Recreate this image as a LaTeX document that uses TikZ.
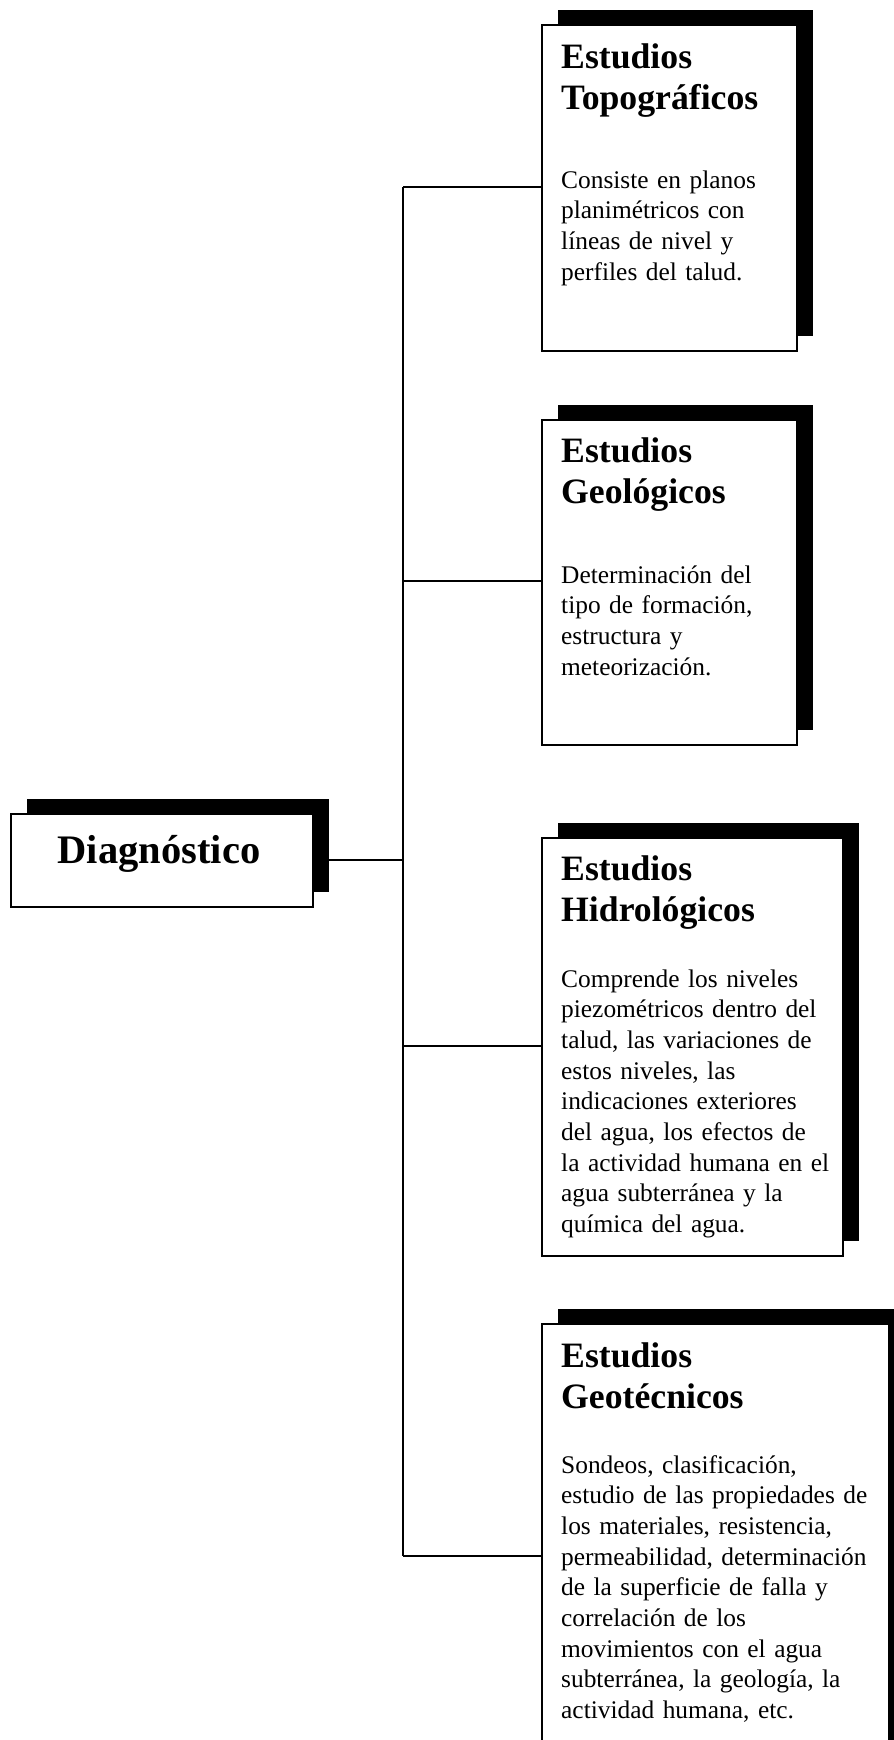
\documentclass[tikz,border=0pt]{standalone}
\usepackage{fontspec}
\setmainfont{Liberation Serif}
\usetikzlibrary{shadows}
\begin{document}
\begin{tikzpicture}[x=1pt,y=-1pt,
  card/.style={draw=black, line width=1.8pt, fill=white, rectangle, inner sep=0pt, anchor=north west,
    drop shadow={shadow xshift=16pt, shadow yshift=15pt, fill=black, opacity=1}},
  head/.style={anchor=base west, inner sep=0pt, text width=330pt, align=left,
    font=\fontsize{35.7}{41.7}\selectfont\bfseries},
  body/.style={anchor=base west, inner sep=0pt, text width=330pt, align=left,
    font=\fontsize{25.4}{30.7}\selectfont},
  conn/.style={line width=2pt}]
\useasboundingbox (0,0) rectangle (894,1740);
\clip (0,0) rectangle (894,1740);
\fill[white] (0,0) rectangle (894,1740);

% boxes
\node[card, minimum width=302pt, minimum height=93pt] (diag) at (10,813) {};
\node[anchor=base, inner sep=0pt, font=\fontsize{40.5}{48}\selectfont\bfseries] (diagt) at (159,863) {Diagnóstico};

\node[card, minimum width=255pt, minimum height=326pt] (topo) at (541,24) {};
\node[card, minimum width=255pt, minimum height=325pt] (geo) at (541,419) {};
\node[card, minimum width=301pt, minimum height=418pt] (hidro) at (541,837) {};
\node[card, minimum width=347pt, minimum height=520pt] (geot) at (541,1323) {};

% texts
\node[head] (topoh) at (561,68) {Estudios\\Topográficos};
\node[body] (topob) at (561,188) {Consiste en planos\\planimétricos con\\líneas de nivel y\\perfiles del talud.};

\node[head] (geoh) at (561,462) {Estudios\\Geológicos};
\node[body] (geob) at (561,583) {Determinación del\\tipo de formación,\\estructura y\\meteorización.};

\node[head] (hidroh) at (561,880) {Estudios\\Hidrológicos};
\node[body] (hidrob) at (561,987) {Comprende los niveles\\piezométricos dentro del\\talud, las variaciones de\\estos niveles, las\\indicaciones exteriores\\del agua, los efectos de\\la actividad humana en el\\agua subterránea y la\\química del agua.};

\node[head] (geoth) at (561,1367) {Estudios\\Geotécnicos};
\node[body] (geotb) at (561,1473) {Sondeos, clasificación,\\estudio de las propiedades de\\los materiales, resistencia,\\permeabilidad, determinación\\de la superficie de falla y\\correlación de los\\movimientos con el agua\\subterránea, la geología, la\\actividad humana, etc.};

% trunk
\coordinate (t1) at (403,187);
\coordinate (t2) at (403,581);
\coordinate (tD) at (403,860);
\coordinate (t3) at (403,1046);
\coordinate (t4) at (403,1556);

\draw[conn] (t1) -- (t4);
\draw[conn] (t1) -- (t1 -| topo.west);
\draw[conn] (t2) -- (t2 -| geo.west);
\draw[conn] (t3) -- (t3 -| hidro.west);
\draw[conn] (t4) -- (t4 -| geot.west);
\draw[conn] (diag.east |- tD) -- (tD);
\end{tikzpicture}
\end{document}
